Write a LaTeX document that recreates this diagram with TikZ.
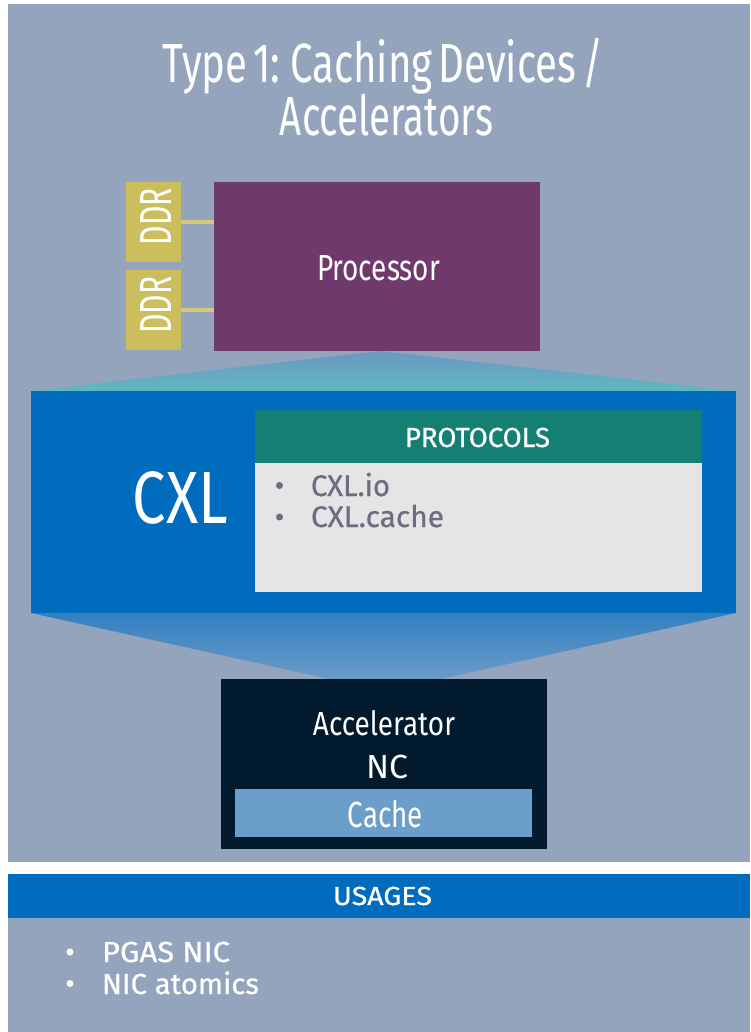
\documentclass[tikz,border=0pt]{standalone}
\usepackage{fontspec}
\setmainfont{Fira Sans}
\newfontfamily\condfont{Fira Sans}[WordSpace=0.55]
\newfontfamily\medfont{Fira Sans}[FakeBold=0.6]
\usepackage{graphicx}
\definecolor{bggray}{RGB}{149,164,189}
\definecolor{ddrcol}{RGB}{205,190,93}
\definecolor{ddrline}{RGB}{214,200,122}
\definecolor{proccol}{RGB}{111,57,107}
\definecolor{cxlblue}{RGB}{0,108,190}
\definecolor{protohead}{RGB}{21,127,116}
\definecolor{protobody}{RGB}{229,229,229}
\definecolor{prototext}{RGB}{110,108,128}
\definecolor{accelcol}{RGB}{1,26,45}
\definecolor{cachecol}{RGB}{107,158,200}
\definecolor{uptop}{RGB}{106,152,192}
\definecolor{upbot}{RGB}{98,183,193}
\definecolor{lowtop}{RGB}{51,127,192}
\definecolor{lowbot}{RGB}{107,156,200}
\newcommand{\fitt}[3]{\resizebox{#1pt}{#2pt}{\smash{#3}\rule{0pt}{\fontcharht\font`H}}}
\tikzset{
  boxnode/.style={draw=none, inner sep=0pt, outer sep=0pt, rectangle},
  lbl/.style={inner sep=0pt, outer sep=0pt, anchor=base, text=white, font=\condfont},
  lblm/.style={inner sep=0pt, outer sep=0pt, anchor=base, text=white, font=\medfont},
  lbll/.style={inner sep=0pt, outer sep=0pt, anchor=base west, font=\medfont},
  bulletdot/.style={circle, inner sep=0pt, outer sep=0pt, minimum size=7pt, draw=none},
  ddrbox/.style={boxnode, fill=ddrcol, minimum width=55pt, minimum height=80pt},
  ddrconn/.style={draw=ddrline, line width=4.5pt}
}
\begin{document}
\begin{tikzpicture}[x=1pt,y=-1pt]
\useasboundingbox (0,0) rectangle (750,1032);
\fill[white] (0,0) rectangle (750,1032);
% panels
\node[boxnode, fill=bggray, minimum width=742pt, minimum height=858pt] (panel) at (379,433) {};
\node[boxnode, fill=bggray, minimum width=742pt, minimum height=114pt] (usepanel) at (379,975) {};
% title
\node[lbl] (t1) at (383,83) {\fitt{440}{38}{Type 1: Caching Devices /}};
\node[lbl] (t2) at (386.5,136) {\fitt{213}{38}{Accelerators}};
% funnels
\shade[top color=uptop, bottom color=upbot] (31,391) -- (380,351) -- (736,391) -- cycle;
\shade[top color=lowtop, bottom color=lowbot] (31,613) -- (736,613) -- (441,679) -- (329,679) -- cycle;
% DDR + processor
\node[boxnode, fill=proccol, minimum width=326pt, minimum height=169pt] (proc) at (377,266.5) {};
\node[ddrbox] (ddr1) at (153.5,222) {};
\node[ddrbox] (ddr2) at (153.5,310) {};
\draw[ddrconn] (ddr1.east) -- (ddr1.east -| proc.west);
\draw[ddrconn] (ddr2.east) -- (ddr2.east -| proc.west);
\node[lbl, anchor=center, rotate=90] (ddr1t) at (155.5,216.5) {\fitt{57}{31}{DDR}};
\node[lbl, anchor=center, rotate=90] (ddr2t) at (155.5,305) {\fitt{57}{31}{DDR}};
\node[lbl] (proct) at (378.5,280) {\fitt{123}{25}{Processor}};
% CXL
\node[boxnode, fill=cxlblue, minimum width=705pt, minimum height=222pt] (cxl) at (383.5,502) {};
\node[lbl] (cxlt) at (180.5,523) {\fitt{95}{51}{CXL}};
\node[boxnode, fill=protohead, minimum width=447pt, minimum height=53pt] (phead) at (478.5,436.5) {};
\node[boxnode, fill=protobody, minimum width=447pt, minimum height=129pt] (pbody) at (478.5,527.5) {};
\node[lblm] (pheadt) at (477.5,447) {\fitt{145}{19}{PROTOCOLS}};
\node[bulletdot, fill=prototext] (pb1) at (279.5,485.5) {};
\node[bulletdot, fill=prototext] (pb2) at (279.5,517) {};
\node[lbll, text=prototext] (p1) at (311,496) {\fitt{79}{20.5}{CXL.io}};
\node[lbll, text=prototext] (p2) at (311,527) {\fitt{133}{20.5}{CXL.cache}};
% Accelerator
\node[boxnode, fill=accelcol, minimum width=326pt, minimum height=170pt] (acc) at (384,764) {};
\node[lbl] (acct1) at (384,735) {\fitt{142}{23}{Accelerator}};
\node[lbl] (acct2) at (387,778) {\fitt{42}{23}{NC}};
\node[boxnode, fill=cachecol, minimum width=297pt, minimum height=48pt] (cache) at (383.5,813) {};
\node[lbl] (cachet) at (385.5,827) {\fitt{75}{25}{Cache}};
% Usages
\node[boxnode, fill=cxlblue, minimum width=742pt, minimum height=44pt] (usebar) at (379,896) {};
\node[lblm] (uset) at (382.5,905) {\fitt{99}{18}{USAGES}};
\node[bulletdot, fill=white] (ub1) at (70,952) {};
\node[bulletdot, fill=white] (ub2) at (70,983.5) {};
\node[lbll, text=white] (u1) at (102,962) {\fitt{128}{20}{PGAS NIC}};
\node[lbll, text=white] (u2) at (102,994) {\fitt{157}{20}{NIC atomics}};
\end{tikzpicture}
\end{document}
